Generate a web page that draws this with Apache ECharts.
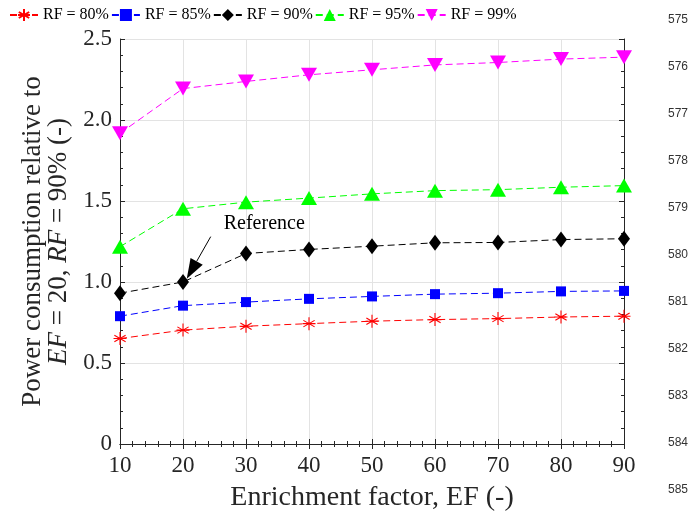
<!DOCTYPE html>
<html><head><meta charset="utf-8">
<script src="https://cdn.jsdelivr.net/npm/echarts@6/dist/echarts.min.js"></script>
<style>html,body{margin:0;padding:0;background:#fff}#c{width:694px;height:517px}</style>
</head><body><div id="c"></div>
<script>
const efValues = [10, 20, 30, 40, 50, 60, 70, 80, 90];
const seriesNames = ['RF = 80%', 'RF = 85%', 'RF = 90%', 'RF = 95%', 'RF = 99%'];
const rf80 = [0.651, 0.703, 0.727, 0.743, 0.758, 0.768, 0.774, 0.784, 0.789];
const rf85 = [0.789, 0.854, 0.876, 0.896, 0.911, 0.925, 0.931, 0.942, 0.945];
const rf90 = [0.931, 1.0, 1.176, 1.201, 1.221, 1.242, 1.244, 1.262, 1.267];
const rf95 = [1.218, 1.452, 1.493, 1.518, 1.544, 1.564, 1.570, 1.585, 1.595];
const rf99 = [1.918, 2.194, 2.238, 2.279, 2.31, 2.34, 2.355, 2.376, 2.388];
const annotText = 'Reference';
const annotTextPos = [32.9, 1.36];
const annotArrowFrom = [24.4, 1.28];
const annotArrowTo = [20.6, 1.02];
const lineNumbers = ['575','576','577','578','579','580','581','582','583','584','585'];

const colors = ['#ff0000', '#0000ff', '#000000', '#00ff00', '#ff00ff'];
const allData = [rf80, rf85, rf90, rf95, rf99];
const symbols = [
  'path://M0,-10L0,10M-8.66,-5L8.66,5M-8.66,5L8.66,-5M-10,0L10,0',
  'rect', 'diamond', 'triangle', 'triangle'
];
const symSizes = [13, 10, [12, 16], [16, 14], [16, 14]];
const symRot = [0, 0, 0, 0, 180];
const serif = '"Liberation Serif", "Times New Roman", serif';
const axisCol = '#262626';

const series = allData.map((d, i) => ({
  name: seriesNames[i], type: 'line',
  data: efValues.map((x, j) => [x, d[j]]),
  symbol: symbols[i], symbolSize: symSizes[i], symbolRotate: symRot[i],
  lineStyle: { color: colors[i], width: 1, type: [7, 4] },
  itemStyle: { color: colors[i], borderColor: colors[i], borderWidth: i === 0 ? 1.1 : 0 },
  emphasis: { disabled: true },
  animation: false, z: 3 + i
}));

const chart = echarts.init(document.getElementById('c'), null, { renderer: 'canvas' });
const gridCfg = { left: 120, right: 70, top: 39, bottom: 70 };
const tickCommon = { inside: true, length: 5, lineStyle: { color: axisCol } };
const minorCommon = { show: true, splitNumber: 5, length: 3, lineStyle: { color: axisCol } };
chart.setOption({
  animation: false,
  color: colors,
  grid: gridCfg,
  legend: {
    left: 4, top: 2, itemWidth: 28, itemHeight: 15, itemGap: 2,
    textStyle: { fontFamily: serif, fontSize: 16, color: '#000' },
    data: seriesNames
  },
  xAxis: [{
    type: 'value', min: 10, max: 90, interval: 10,
    axisLine: { lineStyle: { color: axisCol } },
    axisTick: tickCommon, minorTick: minorCommon,
    splitLine: { show: true, lineStyle: { color: '#e3e3e3' } },
    axisLabel: { fontFamily: serif, fontSize: 23, color: '#262626', margin: 10 },
    name: 'Enrichment factor, EF (-)', nameLocation: 'middle', nameGap: 40,
    nameTextStyle: { fontFamily: serif, fontSize: 28, color: '#262626' }
  }, {
    type: 'value', min: 10, max: 90, interval: 10, position: 'top',
    axisLine: { show: true, lineStyle: { color: axisCol } },
    axisTick: tickCommon, minorTick: minorCommon,
    splitLine: { show: false }, axisLabel: { show: false }
  }],
  yAxis: [{
    type: 'value', min: 0, max: 2.5, interval: 0.5,
    axisLine: { show: true, lineStyle: { color: axisCol } },
    axisTick: tickCommon, minorTick: minorCommon,
    splitLine: { show: true, lineStyle: { color: '#e3e3e3' } },
    axisLabel: {
      fontFamily: serif, fontSize: 23, color: '#262626', margin: 8,
      formatter: v => v === 0 ? '0' : v.toFixed(1)
    },
    name: 'Power consumption relative to\n{i|EF} = 20, {i|RF} = 90% (-)',
    nameLocation: 'middle', nameGap: 47, nameRotate: 90,
    nameTextStyle: {
      fontFamily: serif, fontSize: 27, color: '#262626', lineHeight: 26,
      rich: { i: { fontFamily: serif, fontSize: 27, fontStyle: 'italic', color: '#262626' } }
    }
  }, {
    type: 'value', min: 0, max: 2.5, interval: 0.5, position: 'right',
    axisLine: { show: true, lineStyle: { color: axisCol } },
    axisTick: tickCommon, minorTick: minorCommon,
    splitLine: { show: false }, axisLabel: { show: false }
  }],
  series: series
});

const tp = chart.convertToPixel({ gridIndex: 0 }, annotTextPos);
const a0 = chart.convertToPixel({ gridIndex: 0 }, annotArrowFrom);
const a1 = chart.convertToPixel({ gridIndex: 0 }, annotArrowTo);
const dx = a1[0] - a0[0], dy = a1[1] - a0[1];
const L = Math.hypot(dx, dy), ux = dx / L, uy = dy / L;
const headLen = 20, headHalf = 7;
const bx = a1[0] - ux * headLen, by = a1[1] - uy * headLen;
const graphics = [{
  type: 'text', x: tp[0], y: tp[1],
  style: { text: annotText, fontFamily: serif, fontSize: 20, fill: '#000', align: 'center', verticalAlign: 'middle' },
  z: 20
}, {
  type: 'line', shape: { x1: a0[0], y1: a0[1], x2: bx, y2: by },
  style: { stroke: '#000', lineWidth: 1 }, z: 20
}, {
  type: 'polygon',
  shape: { points: [[a1[0], a1[1]], [bx - uy * headHalf, by + ux * headHalf], [bx + uy * headHalf, by - ux * headHalf]] },
  style: { fill: '#000' }, z: 20
}];
lineNumbers.forEach((t, k) => {
  graphics.push({
    type: 'text', x: 668, y: 20 + k * 47,
    style: { text: t, fontFamily: '"Liberation Sans", Arial, sans-serif', fontSize: 12, fill: '#333', verticalAlign: 'middle' }
  });
});
chart.setOption({ graphic: graphics });
</script>
</body></html>
